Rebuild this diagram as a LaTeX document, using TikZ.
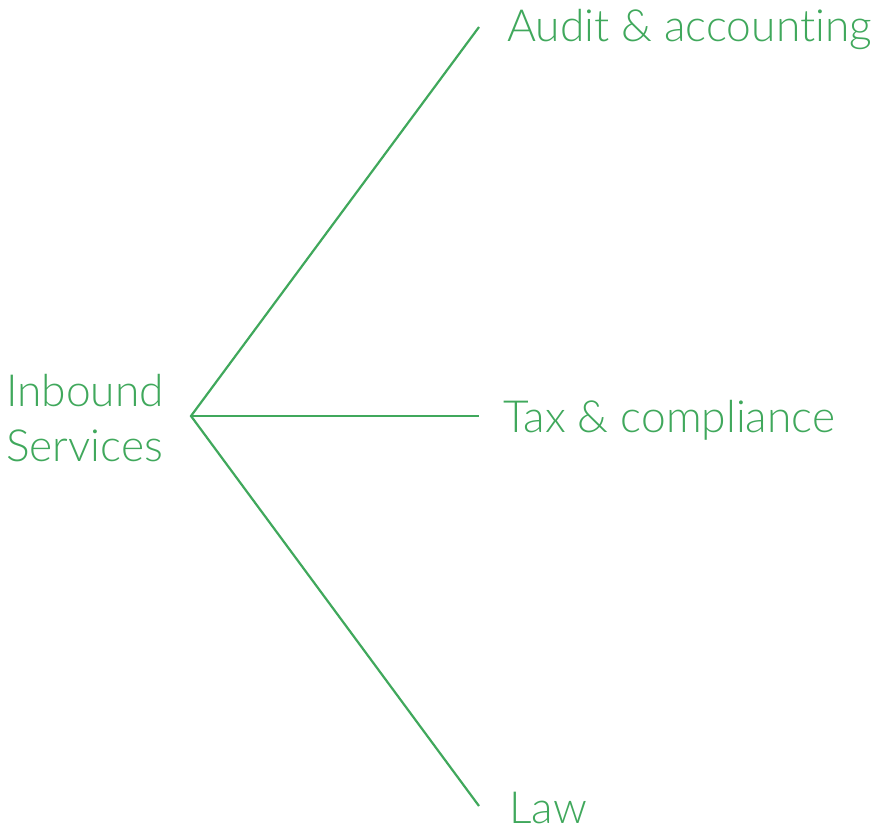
\documentclass[tikz,border=0pt]{standalone}
\usepackage{fontspec}
\setmainfont{Lato}[UprightFont=* Light, Ligatures=NoCommon]
\definecolor{brandgreen}{RGB}{64,168,92}
\tikzset{
  lbl/.style={text=brandgreen, inner sep=0pt, anchor=base west, font=\fontsize{44.3}{55}\selectfont},
  conn/.style={draw=brandgreen, line width=2.2pt}
}
\begin{document}
\begin{tikzpicture}[x=1pt,y=-1pt]
\useasboundingbox (0,0) rectangle (875,828);
\coordinate (hub) at (191,416);
\coordinate (e1) at (479,27);
\coordinate (e2) at (479,416);
\coordinate (e3) at (479,806);
\node[lbl] (inb) at (6,406) {Inbound};
\node[lbl] (svc) at (6,461) {Services};
\node[lbl] (audit) at (507,41) {Audit \& accounting};
\node[lbl] (tax) at (503,432) {Tax \& compliance};
\node[lbl] (law) at (509,823) {Law};
\draw[conn] (e1) -- (hub) -- (e3);
\draw[conn] (hub) -- (e2);
\end{tikzpicture}
\end{document}
